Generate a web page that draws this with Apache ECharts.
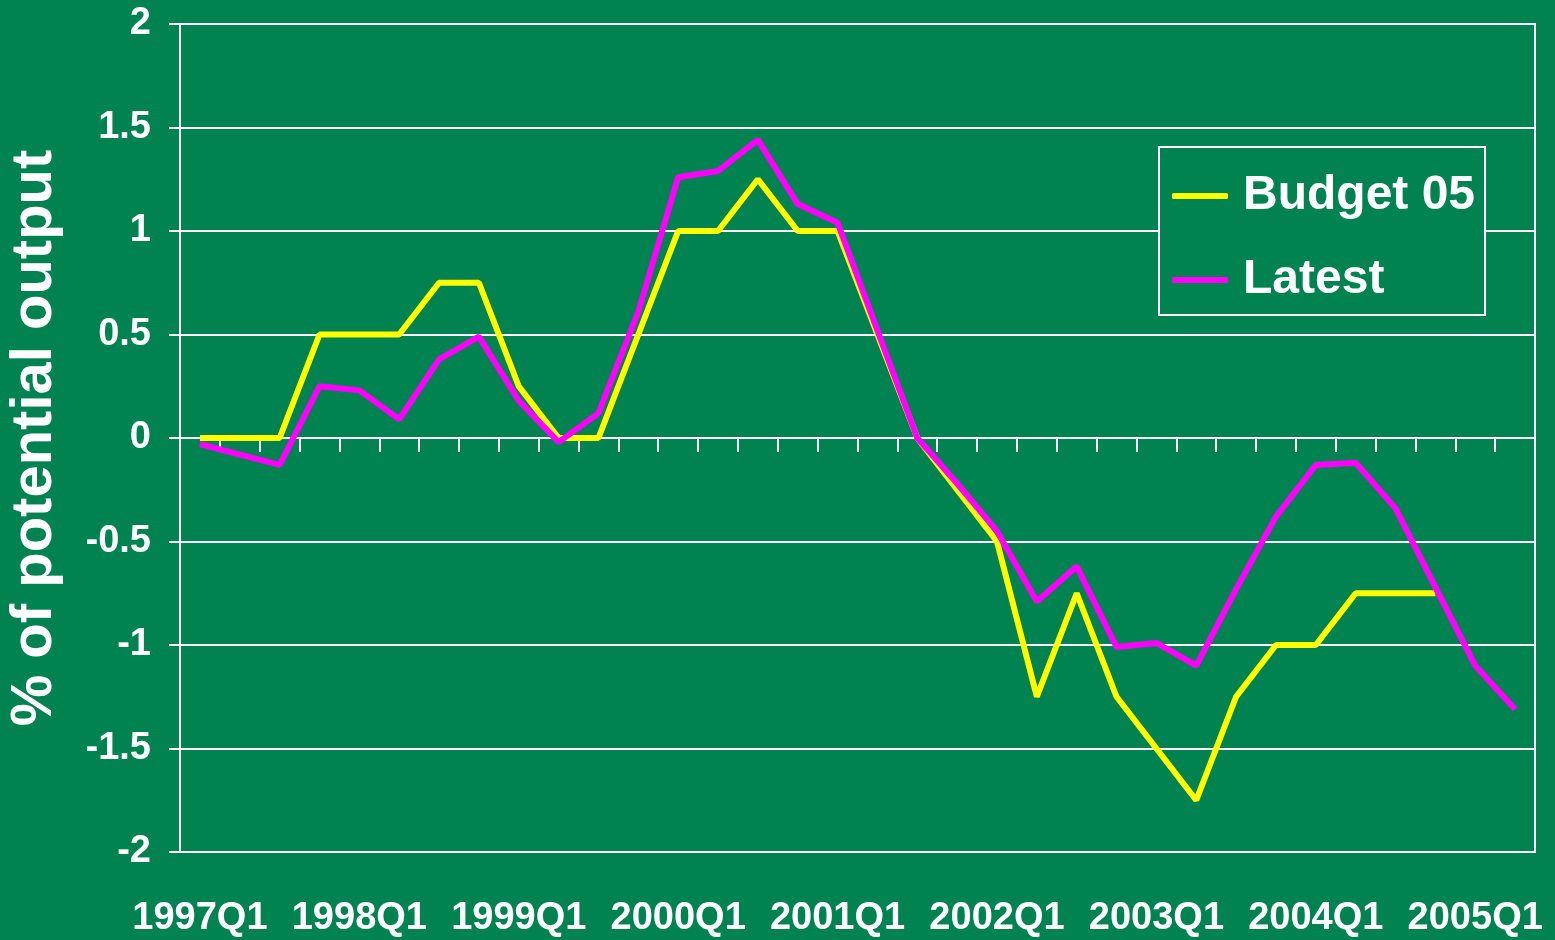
<!DOCTYPE html>
<html>
<head>
    <meta charset="UTF-8">
    <title>Output gap</title>
    <script src="https://cdn.jsdelivr.net/npm/echarts@6/dist/echarts.min.js"></script>
    <style>
        html, body { margin: 0; padding: 0; background: #008351; }
        #main { width: 1555px; height: 940px; }
    </style>
</head>
<body>
    <div id="main"></div>
    <script type="text/javascript">
        // quarters 1997Q1 .. 2005Q2
        var quarters = [];
        for (var y = 1997; y <= 2005; y++) {
            for (var q = 1; q <= 4; q++) {
                if (y === 2005 && q > 2) break;
                quarters.push(y + 'Q' + q);
            }
        }

        var budget05 = [0, 0, 0, 0.5, 0.5, 0.5, 0.75, 0.75, 0.25, 0, 0, 0.5,
            1, 1, 1.25, 1, 1, 0.5, 0, -0.25, -0.5, -1.25, -0.75, -1.25,
            -1.5, -1.75, -1.25, -1, -1, -0.75, -0.75, -0.75, null, null];

        var latest = [-0.03, -0.08, -0.13, 0.25, 0.23, 0.09, 0.38, 0.49, 0.18, -0.02, 0.12, 0.61,
            1.26, 1.29, 1.44, 1.13, 1.04, 0.52, 0, -0.22, -0.45, -0.79, -0.62, -1.01,
            -0.99, -1.1, -0.73, -0.38, -0.13, -0.12, -0.34, -0.72, -1.1, -1.31];

        var seriesNames = ['Budget 05', 'Latest'];
        var white = '#ffffff';
        var font = "'Liberation Sans', Arial, sans-serif";

        var myChart = echarts.init(document.getElementById('main'));

        var option = {
            backgroundColor: '#008351',
            animation: false,
            grid: {
                left: 180,
                right: 20,
                top: 24,
                bottom: 88,
                outerBoundsMode: 'none',
                containLabel: false,
                show: true,
                backgroundColor: 'transparent',
                borderColor: white,
                borderWidth: 2
            },
            legend: {
                data: seriesNames,
                orient: 'vertical',
                left: 1159,
                top: 147,
                icon: 'roundRect',
                backgroundColor: '#008351',
                borderColor: white,
                borderWidth: 2,
                borderRadius: 0,
                padding: [18, 10, 4, 13],
                itemWidth: 56,
                itemHeight: 6,
                itemGap: 22,
                textStyle: {
                    color: white,
                    fontFamily: font,
                    fontWeight: 'bold',
                    fontSize: 48,
                    lineHeight: 62,
                    padding: [0, 0, 0, 10]
                }
            },
            xAxis: [{
                type: 'category',
                data: quarters,
                position: 'bottom',
                boundaryGap: true,
                axisLine: { show: false, onZero: false },
                axisTick: { show: false },
                splitLine: { show: false },
                axisLabel: {
                    interval: 3,
                    color: white,
                    fontFamily: font,
                    fontWeight: 'bold',
                    fontSize: 38,
                    margin: 48
                }
            }, {
                // the axis that sits on zero, with ticks and no labels
                type: 'category',
                data: quarters,
                position: 'top',
                boundaryGap: true,
                axisLine: { show: true, onZero: true, onZeroAxisIndex: 0, lineStyle: { color: white, width: 2 } },
                axisTick: { show: true, inside: true, interval: 0, length: 14, lineStyle: { color: white, width: 2 } },
                axisLabel: { show: false },
                splitLine: { show: false }
            }],
            yAxis: {
                type: 'value',
                min: -2,
                max: 2,
                interval: 0.5,
                name: '% of potential output',
                nameLocation: 'middle',
                nameGap: 116,
                nameTextStyle: {
                    color: white,
                    fontFamily: font,
                    fontWeight: 'bold',
                    fontSize: 58
                },
                axisLine: { show: true, lineStyle: { color: white, width: 2 } },
                axisTick: { show: true, length: 11, lineStyle: { color: white, width: 2 } },
                splitLine: { show: true, lineStyle: { color: white, width: 2 } },
                axisLabel: {
                    color: white,
                    fontFamily: font,
                    fontWeight: 'bold',
                    fontSize: 38,
                    margin: 29
                }
            },
            series: [{
                name: seriesNames[0],
                type: 'line',
                data: budget05,
                symbol: 'none',
                color: '#ffff00',
                lineStyle: { color: '#ffff00', width: 6 }
            }, {
                name: seriesNames[1],
                type: 'line',
                data: latest,
                symbol: 'none',
                color: '#ff00ff',
                lineStyle: { color: '#ff00ff', width: 6 }
            }]
        };
        myChart.setOption(option);
    </script>
</body>
</html>
